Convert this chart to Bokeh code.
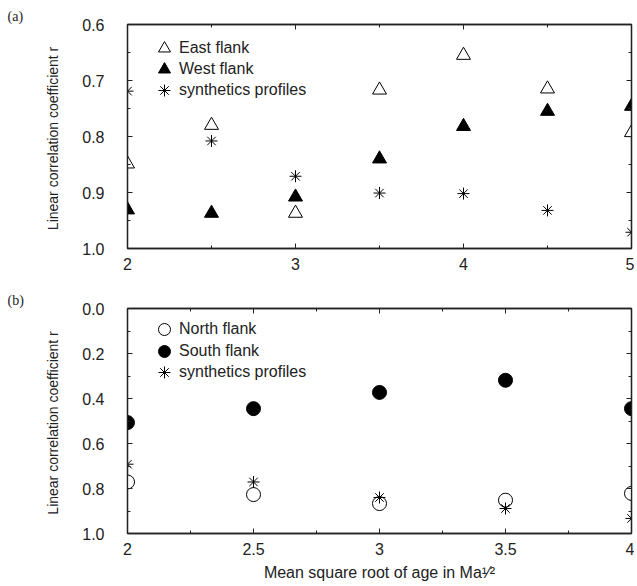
from bokeh.plotting import figure
from bokeh.models import (Range1d, LinearAxis, SingleIntervalTicker, Legend,
                          LegendItem, CustomJSTickFormatter)
from bokeh.layouts import column
from bokeh.embed import file_html
from bokeh.resources import INLINE

# ---- data (panel a) ----
x_a = [2, 2.5, 3, 3.5, 4, 4.5, 5]
east_flank = [0.849, 0.780, 0.937, 0.717, 0.655, 0.715, 0.793]
west_flank = [0.931, 0.937, 0.908, 0.840, 0.782, 0.755, 0.746]
synth_a = [0.719, 0.808, 0.871, 0.901, 0.902, 0.932, 0.971]

# ---- data (panel b) ----
x_b = [2, 2.5, 3, 3.5, 4]
north_flank = [0.771, 0.827, 0.867, 0.852, 0.822]
south_flank = [0.507, 0.445, 0.373, 0.319, 0.445]
synth_b = [0.692, 0.771, 0.840, 0.889, 0.933]

labels_a = ["East flank", "West flank", "synthetics profiles"]
labels_b = ["North flank", "South flank", "synthetics profiles"]

FONT = "Liberation Sans"
SERIF = "Liberation Serif"
AX = "#222222"

FMT1 = "return tick.toFixed(1);"
FMTX = ("return Math.abs(tick - Math.round(tick)) < 1e-9 ? "
        "tick.toFixed(0) : tick.toFixed(1);")


def style_axis(ax, ticker, show_labels, fmt=None):
    ax.ticker = ticker
    ax.axis_line_color = AX
    ax.axis_line_width = 1.3
    ax.major_tick_line_color = AX
    ax.minor_tick_line_color = AX
    ax.major_tick_in = 5
    ax.major_tick_out = 0
    ax.minor_tick_in = 3
    ax.minor_tick_out = 0
    ax.major_label_text_font = FONT
    ax.major_label_text_color = "#222222"
    if show_labels:
        ax.major_label_text_font_size = "16px"
        ax.formatter = CustomJSTickFormatter(code=fmt)
    else:
        ax.major_label_text_font_size = "0px"
        ax.major_label_text_color = None
        ax.major_label_standoff = 0


def make_panel(h, xr, yr, xt, yt, border_top, border_bottom, tag):
    p = figure(width=634, height=h, output_backend="svg",
               toolbar_location=None, x_range=xr, y_range=yr,
               min_border_left=127, min_border_right=3,
               min_border_top=border_top, min_border_bottom=border_bottom)
    p.xgrid.visible = False
    p.ygrid.visible = False
    p.outline_line_color = AX
    p.outline_line_width = 1.3
    xb = p.below[0]
    yl = p.left[0]
    style_axis(xb, xt(), True, FMTX)
    style_axis(yl, yt(), True, FMT1)
    xb.major_label_standoff = 9
    yl.major_label_standoff = 23
    yl.axis_label = "Linear correlation coefficient  r"
    yl.axis_label_text_font = FONT
    yl.axis_label_text_font_style = "normal"
    yl.axis_label_text_font_size = "14px"
    yl.axis_label_text_color = "#222222"
    yl.axis_label_standoff = 18
    top = LinearAxis()
    style_axis(top, xt(), False)
    right = LinearAxis()
    style_axis(right, yt(), False)
    p.add_layout(top, "above")
    p.add_layout(right, "right")
    p.title.text = tag
    p.title.align = "left"
    p.title.offset = -120
    p.title.standoff = 2
    p.title.text_font = SERIF
    p.title.text_font_size = "14px"
    p.title.text_font_style = "normal"
    p.title.text_color = "#222222"
    return p, xb


def add_legend_row(p, label, renderer, loc):
    lg = Legend(items=[LegendItem(label=label, renderers=[renderer])],
                location=loc)
    lg.border_line_color = None
    lg.background_fill_alpha = 0
    lg.label_text_font = FONT
    lg.label_text_font_size = "16px"
    lg.label_text_color = "#222222"
    lg.glyph_width = 30
    lg.glyph_height = 32
    lg.label_height = 32
    lg.label_standoff = 0
    lg.spacing = 0
    lg.padding = 0
    lg.margin = 0
    p.add_layout(lg)


# ---------------- panel (a) ----------------
pa, xa_axis = make_panel(280, Range1d(2, 5), Range1d(1.0, 0.6),
                         lambda: SingleIntervalTicker(interval=1, num_minor_ticks=2),
                         lambda: SingleIntervalTicker(interval=0.1, num_minor_ticks=2),
                         24, 32, "(a)")

r1 = pa.scatter(x_a, east_flank, marker="triangle", size=14,
                fill_color="white", line_color="black", line_width=1)
r2 = pa.scatter(x_a, west_flank, marker="triangle", size=14,
                fill_color="black", line_color="black", line_width=1)
r3 = pa.scatter(x_a, synth_a, marker="asterisk", size=12,
                line_color="black", line_width=1)
for lab, r, yy in zip(labels_a, [r1, r2, r3], [184, 163, 142]):
    add_legend_row(pa, lab, r, (22, yy))

# ---------------- panel (b) ----------------
pb, xb_axis = make_panel(306, Range1d(2, 4), Range1d(1.0, 0.0),
                         lambda: SingleIntervalTicker(interval=0.5, num_minor_ticks=2),
                         lambda: SingleIntervalTicker(interval=0.2, num_minor_ticks=2),
                         28, 53, "(b)")
xb_axis.axis_label = "Mean square root of age in Ma\u00b9\u2044\u00b2"
xb_axis.axis_label_text_font = FONT
xb_axis.axis_label_text_font_style = "normal"
xb_axis.axis_label_text_font_size = "16px"
xb_axis.axis_label_text_color = "#222222"
xb_axis.axis_label_standoff = 6

s1 = pb.scatter(x_b, north_flank, marker="circle", size=14,
                fill_color="white", line_color="black", line_width=1)
s2 = pb.scatter(x_b, south_flank, marker="circle", size=14,
                fill_color="black", line_color="black", line_width=1)
s3 = pb.scatter(x_b, synth_b, marker="asterisk", size=12,
                line_color="black", line_width=1)
for lab, r, yy in zip(labels_b, [s1, s2, s3], [188, 166, 145]):
    add_legend_row(pb, lab, r, (22, yy))

layout = column(pa, pb, spacing=0)
open("out.html", "w").write(file_html(layout, INLINE))
